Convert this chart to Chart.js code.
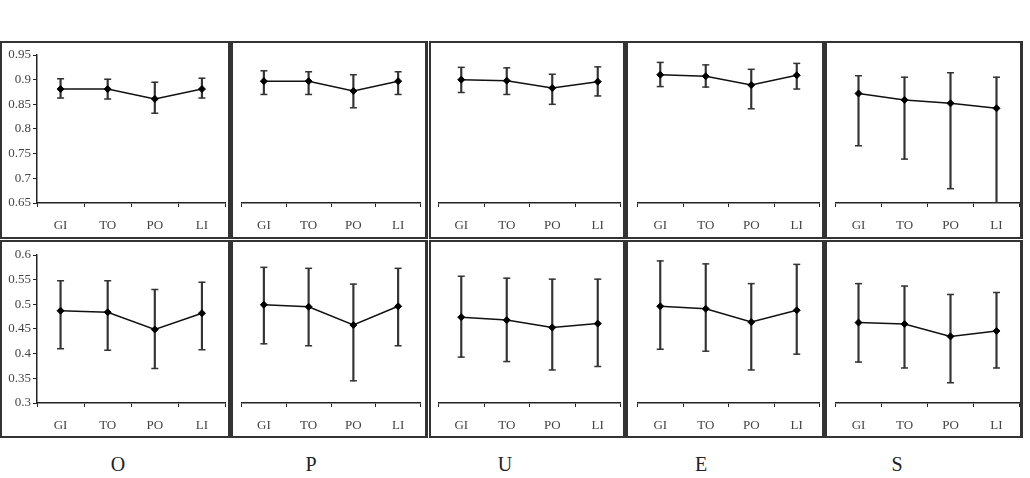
<!DOCTYPE html>
<html>
<head>
<meta charset="utf-8">
<script src="https://cdn.jsdelivr.net/npm/chart.js@4.4.0/dist/chart.umd.min.js"></script>
<style>
body { margin: 0; background: #fff; width: 1030px; height: 478px; position: relative; overflow: hidden; font-family: "Liberation Serif", serif; }
.frame { position: absolute; box-sizing: border-box; border: 2px solid #333; border-right-width: 3px; }
.box { position: absolute; }
.lbl { position: absolute; top: 453px; width: 40px; margin-left: -20px; text-align: center; font-size: 20px; color: #222; }
</style>
</head>
<body>
<script>
var categories = ["GI", "TO", "PO", "LI"];
var traits = ["O", "P", "U", "E", "S"];
var topTicks = [0.65, 0.7, 0.75, 0.8, 0.85, 0.9, 0.95];
var bottomTicks = [0.3, 0.35, 0.4, 0.45, 0.5, 0.55, 0.6];
var topTickLabels = ["0.65", "0.7", "0.75", "0.8", "0.85", "0.9", "0.95"];
var bottomTickLabels = ["0.3", "0.35", "0.4", "0.45", "0.5", "0.55", "0.6"];

// top row: mean and the two ends of each error bar, one list per trait
var topMean = [
    [0.881, 0.881, 0.861, 0.881],
    [0.897, 0.897, 0.877, 0.897],
    [0.900, 0.898, 0.883, 0.896],
    [0.910, 0.907, 0.889, 0.909],
    [0.872, 0.859, 0.852, 0.842]
];
var topLow = [
    [0.863, 0.861, 0.832, 0.863],
    [0.870, 0.870, 0.843, 0.870],
    [0.874, 0.870, 0.850, 0.867],
    [0.886, 0.885, 0.841, 0.881],
    [0.766, 0.739, 0.679, 0.650]
];
var topHigh = [
    [0.902, 0.901, 0.895, 0.903],
    [0.918, 0.916, 0.910, 0.916],
    [0.925, 0.924, 0.911, 0.926],
    [0.935, 0.930, 0.921, 0.933],
    [0.908, 0.905, 0.914, 0.905]
];

// bottom row
var bottomMean = [
    [0.487, 0.484, 0.449, 0.482],
    [0.499, 0.495, 0.458, 0.496],
    [0.474, 0.468, 0.453, 0.461],
    [0.496, 0.491, 0.464, 0.488],
    [0.463, 0.460, 0.435, 0.446]
];
var bottomLow = [
    [0.410, 0.407, 0.370, 0.408],
    [0.420, 0.416, 0.345, 0.416],
    [0.393, 0.384, 0.367, 0.374],
    [0.409, 0.405, 0.367, 0.399],
    [0.383, 0.371, 0.341, 0.371]
];
var bottomHigh = [
    [0.548, 0.548, 0.530, 0.545],
    [0.575, 0.573, 0.541, 0.573],
    [0.557, 0.553, 0.551, 0.551],
    [0.588, 0.582, 0.542, 0.581],
    [0.542, 0.537, 0.520, 0.524]
];

// layout of the grid of panels
var plotLeft = [37, 236, 433, 632, 830];
var plotRight = [230, 425, 625, 824, 1024];
var frameLeft = [0, 231, 429, 626, 825];
var frameRight = [231, 428, 626, 825, 1023];
var labelX = [118, 311, 505, 701, 897];
var rows = [
    {frameTop: 41, frameBottom: 239, plotTop: 55, plotBottom: 203, min: 0.65, max: 0.95,
     ticks: topTicks, tickLabels: topTickLabels, mean: topMean, low: topLow, high: topHigh},
    {frameTop: 240, frameBottom: 438, plotTop: 255, plotBottom: 403, min: 0.3, max: 0.6,
     ticks: bottomTicks, tickLabels: bottomTickLabels, mean: bottomMean, low: bottomLow, high: bottomHigh}
];

var font = {family: "'Liberation Serif', serif", size: 13};
var yAxisW = 37;

function addDiv(cls, l, t, w, h) {
    var d = document.createElement("div");
    d.className = cls;
    d.style.left = l + "px";
    d.style.top = t + "px";
    d.style.width = w + "px";
    d.style.height = h + "px";
    document.body.appendChild(d);
    return d;
}

function drawPanel(row, c) {
    addDiv("frame", frameLeft[c], row.frameTop, frameRight[c] - frameLeft[c], row.frameBottom - row.frameTop);

    var showY = c == 0;
    var left = showY ? plotLeft[c] - yAxisW : plotLeft[c];
    var top = row.frameTop + 2;
    var w = plotRight[c] + 1 - left;
    var h = row.frameBottom - 2 - top;
    var xAxisH = top + h - row.plotBottom;

    var box = addDiv("box", left, top, w, h);
    var cv = document.createElement("canvas");
    cv.width = w;
    cv.height = h;
    box.appendChild(cv);

    var bars = row.low[c].map(function(v, i) { return [v, row.high[c][i]]; });

    new Chart(cv.getContext("2d"), {
        data: {
            labels: categories,
            datasets: [
                {
                    type: 'line',
                    data: row.mean[c],
                    borderColor: '#111',
                    borderWidth: 1.5,
                    pointStyle: 'rectRot',
                    pointRadius: 3.5,
                    pointBackgroundColor: '#000',
                    pointBorderColor: '#000',
                    pointBorderWidth: 1,
                    tension: 0,
                    order: 0
                },
                {
                    type: 'bar',
                    data: bars,
                    backgroundColor: '#333',
                    barThickness: 1.5,
                    borderWidth: 0,
                    order: 2
                },
                {
                    type: 'line',
                    data: row.low[c],
                    showLine: false,
                    pointStyle: 'line',
                    pointRadius: 3.5,
                    pointBorderWidth: 1.5,
                    pointBorderColor: '#333',
                    order: 1
                },
                {
                    type: 'line',
                    data: row.high[c],
                    showLine: false,
                    pointStyle: 'line',
                    pointRadius: 3.5,
                    pointBorderWidth: 1.5,
                    pointBorderColor: '#333',
                    order: 1
                }
            ]
        },
        options: {
            responsive: false,
            animation: false,
            devicePixelRatio: 1,
            layout: {padding: {top: row.plotTop - top, right: 1, bottom: 0, left: 0}},
            plugins: {legend: {display: false}, tooltip: {enabled: false}},
            scales: {
                x: {
                    offset: true,
                    grid: {offset: true, drawOnChartArea: false, drawTicks: true, tickLength: 4, color: '#222', lineWidth: 1},
                    border: {display: true, color: '#222', width: 1.5},
                    ticks: {color: '#444', font: font, padding: 11, maxRotation: 0},
                    afterFit: function(s) { s.height = xAxisH; }
                },
                y: {
                    display: showY,
                    min: row.min,
                    max: row.max,
                    afterBuildTicks: function(s) { s.ticks = row.ticks.map(function(v) { return {value: v}; }); },
                    grid: {drawOnChartArea: false, drawTicks: true, tickLength: 4, color: '#222', lineWidth: 1},
                    border: {display: true, color: '#222', width: 1.5},
                    ticks: {
                        color: '#444', font: font, padding: 2,
                        callback: function(v, i) { return row.tickLabels[i]; }
                    },
                    afterFit: function(s) { s.width = showY ? yAxisW : 0; }
                }
            }
        }
    });
}

rows.forEach(function(row) {
    for (var c = 0; c < 5; c++) drawPanel(row, c);
});

traits.forEach(function(t, i) {
    var d = document.createElement("div");
    d.className = "lbl";
    d.style.left = labelX[i] + "px";
    d.textContent = t;
    document.body.appendChild(d);
});
</script>
</body>
</html>
